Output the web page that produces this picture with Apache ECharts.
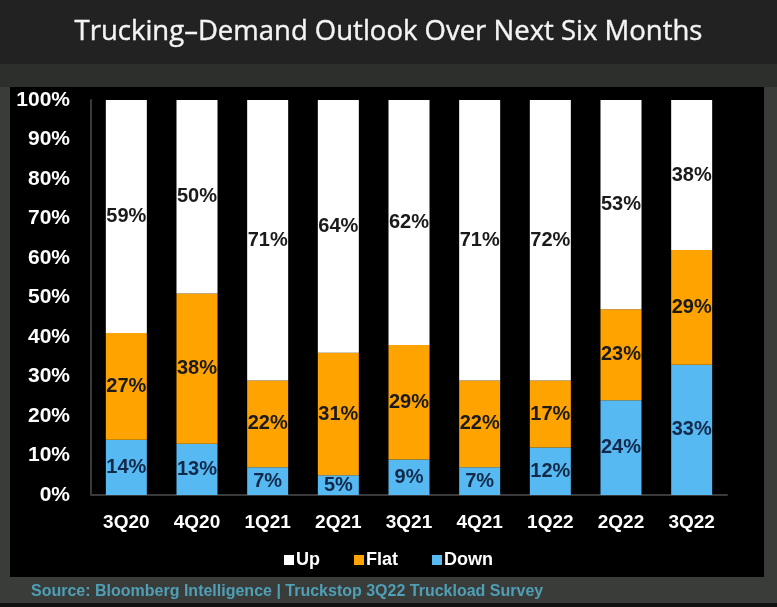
<!DOCTYPE html>
<html>
<head>
<meta charset="utf-8">
<script src="https://cdn.jsdelivr.net/npm/echarts@6/dist/echarts.min.js"></script>
<style>html,body{margin:0;padding:0;background:#3a3c3a;}#c{width:777px;height:607px;}</style>
</head>
<body>
<div id="c"></div>
<script>
const categories = ['3Q20','4Q20','1Q21','2Q21','3Q21','4Q21','1Q22','2Q22','3Q22'];
const downValues = [14, 13, 7, 5, 9, 7, 12, 24, 33];
const flatValues = [27, 38, 22, 31, 29, 22, 17, 23, 29];
const upValues   = [59, 50, 71, 64, 62, 71, 72, 53, 38];
const yTicks = [0,10,20,30,40,50,60,70,80,90,100];

const chart = echarts.init(document.getElementById('c'));
const labelBase = {show:true, position:'inside', fontFamily:'Arial, Liberation Sans', fontWeight:'bold', fontSize:20, formatter: p => p.value + '%'};
chart.setOption({
  backgroundColor:'#3a3c3a',
  animation:false,
  graphic:[
    {type:'rect', z:-10, shape:{x:0,y:0,width:777,height:64}, style:{fill:'#222222'}},
    {type:'rect', z:-10, shape:{x:0,y:64,width:777,height:23}, style:{fill:'#2d2f2d'}},
    {type:'rect', z:-10, shape:{x:10,y:87,width:754,height:490}, style:{fill:'#000000'}},
    {type:'rect', z:-10, shape:{x:0,y:603,width:777,height:4}, style:{fill:'#111111'}},
    {type:'text', z:5, left:31, top:584, style:{text:'Source: Bloomberg Intelligence | Truckstop 3Q22 Truckload Survey', fill:'#4f9fb6', font:'bold 16px Arial, "Liberation Sans"'}}
  ],
  title:{text:'Trucking\u2013Demand Outlook Over Next Six Months', left:'center', top:13,
    textStyle:{color:'#f4f4f4', fontFamily:'Open Sans', fontWeight:'normal', fontSize:27.5, textBorderColor:'#f4f4f4', textBorderWidth:0.4}},
  legend:{bottom:33, left:'center', itemWidth:10, itemHeight:10, itemGap:34, icon:'rect',
    data:['Up','Flat','Down'],
    textStyle:{color:'#ffffff', fontFamily:'Arial', fontWeight:'bold', fontSize:18, padding:[0,0,0,-3]}},
  grid:{left:91, right:50, top:100, bottom:112},
  xAxis:{type:'category', data:categories,
    axisLine:{lineStyle:{color:'#3a3a3a', width:2}}, axisTick:{show:false},
    axisLabel:{color:'#ffffff', fontFamily:'Arial', fontWeight:'bold', fontSize:19, margin:18}},
  yAxis:{type:'value', min:0, max:100, interval:10,
    axisLine:{show:true, lineStyle:{color:'#3a3a3a', width:2}}, axisTick:{show:false},
    splitLine:{show:false},
    axisLabel:{color:'#ffffff', fontFamily:'Arial', fontWeight:'bold', fontSize:21, margin:21,
      formatter: v => yTicks.includes(v) ? v + '%' : ''}},
  series:[
    {name:'Down', type:'bar', stack:'s', barWidth:41, data:downValues, itemStyle:{color:'#56b9f2'},
      label:Object.assign({}, labelBase, {color:'#13294a'})},
    {name:'Flat', type:'bar', stack:'s', barWidth:41, data:flatValues, itemStyle:{color:'#ffa300'},
      label:Object.assign({}, labelBase, {color:'#1a1a1a'})},
    {name:'Up', type:'bar', stack:'s', barWidth:41, data:upValues, itemStyle:{color:'#ffffff'},
      label:Object.assign({}, labelBase, {color:'#1a1a1a'})}
  ]
});
</script>
</body>
</html>
